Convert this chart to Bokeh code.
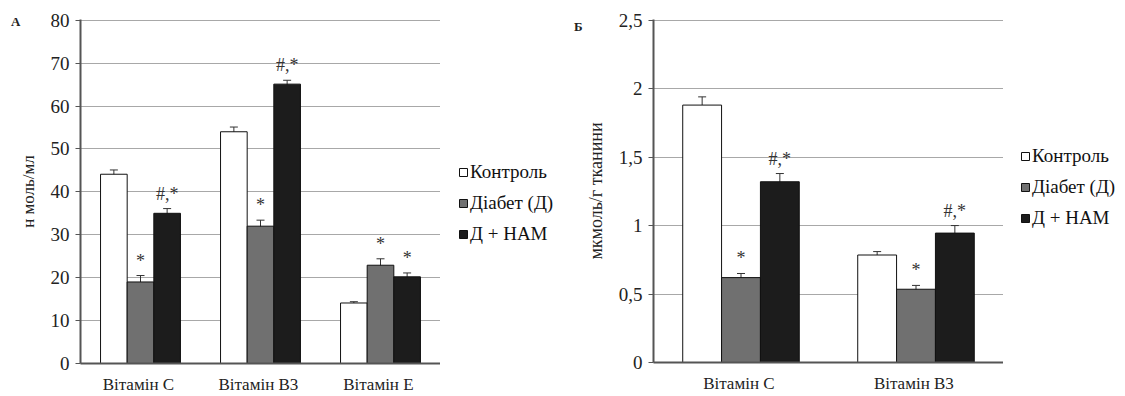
from bokeh.plotting import figure
from bokeh.models import (ColumnDataSource, FactorRange, Range1d, Whisker, Legend,
                          LegendItem, TeeHead, FixedTicker, LinearAxis)
from bokeh.transform import dodge
from bokeh.layouts import row
from bokeh.core.properties import value
from bokeh.embed import file_html
from bokeh.resources import INLINE

# ---------------- data: panel A (nmol/ml) ----------------
cats_a = ["Вітамін  С", "Вітамін  В3", "Вітамін  Е"]
control_a = [44.1, 54.0, 14.1]
control_a_err = [1.0, 1.1, 0.3]
diab_a = [19.0, 32.0, 22.9]
diab_a_err = [1.5, 1.4, 1.5]
nam_a = [35.0, 65.1, 20.2]
nam_a_err = [1.1, 0.9, 0.9]
diab_a_mark = ["*", "*", "*"]
nam_a_mark = ["#,*", "#,*", "*"]
ticks_a = [0, 10, 20, 30, 40, 50, 60, 70, 80]

# ---------------- data: panel B (umol/g tissue) ----------------
cats_b = ["Вітамін  С", "Вітамін  В3"]
control_b = [1.88, 0.785]
control_b_err = [0.06, 0.025]
diab_b = [0.62, 0.535]
diab_b_err = [0.03, 0.028]
nam_b = [1.32, 0.945]
nam_b_err = [0.06, 0.055]
diab_b_mark = ["*", "*"]
nam_b_mark = ["#,*", "#,*"]
ticks_b = [0, 0.5, 1, 1.5, 2, 2.5]
ticks_b_labels = ["0", "0,5", "1", "1,5", "2", "2,5"]

series_names = ["Контроль", "Діабет (Д)", "Д + НАМ"]

SERIF = "'Liberation Serif'"
W = 0.222
FILLS = ["#ffffff", "#707070", "#1c1c1c"]
OUTLINE = "#111111"


def make_panel(cats, series, errs, marks, ticks, tick_labels, ymax, ylabel, ylabel_size,
               frame_w, frame_h, borders, panel_letter, letter_y, letter_standoff):
    p = figure(x_range=FactorRange(*cats), y_range=Range1d(0, ymax * 1.002),
               frame_width=frame_w, frame_height=frame_h,
               min_border_left=borders[0], min_border_right=borders[1],
               min_border_top=borders[2], min_border_bottom=borders[3],
               output_backend="svg", toolbar_location=None, outline_line_color=None)
    data = {"cats": cats}
    for i, (vals, err) in enumerate(zip(series, errs)):
        data[f"v{i}"] = vals
        data[f"lo{i}"] = [v - e for v, e in zip(vals, err)]
        data[f"hi{i}"] = [v + e for v, e in zip(vals, err)]
    data["m1"] = marks[0]
    data["m2"] = marks[1]
    src = ColumnDataSource(data)
    offs = [-W, 0, W]
    for i in range(3):
        p.vbar(x=dodge("cats", offs[i], range=p.x_range), top=f"v{i}", width=W,
               source=src, fill_color=FILLS[i], line_color=OUTLINE, line_width=1)
        wk = Whisker(source=src, base=dodge("cats", offs[i], range=p.x_range),
                     lower=f"lo{i}", upper=f"hi{i}", line_color="#333333", line_width=1)
        wk.upper_head = TeeHead(size=8, line_color="#333333", line_width=1)
        wk.lower_head = TeeHead(size=8, line_color="#333333", line_width=1)
        p.add_layout(wk)
    for i, mcol in [(1, "m1"), (2, "m2")]:
        p.text(x=dodge("cats", offs[i], range=p.x_range), y=f"hi{i}", text=mcol, source=src,
               text_font=value(SERIF), text_font_size="18px", text_align="center",
               text_baseline="bottom", y_offset=-5, text_color="#333333")

    p.xgrid.grid_line_color = None
    p.ygrid.grid_line_color = "#a8a8a8"
    p.ygrid.grid_line_width = 1
    ya = p.yaxis[0]
    ya.ticker = FixedTicker(ticks=ticks)
    if tick_labels is not None:
        ya.major_label_overrides = {t: l for t, l in zip(ticks, tick_labels)}
    ya.minor_tick_line_color = None
    ya.major_tick_in = 0
    ya.major_tick_out = 5
    ya.major_tick_line_color = "#555555"
    ya.axis_line_color = "#555555"
    ya.axis_line_width = 2
    ya.major_label_text_font = SERIF
    ya.major_label_text_font_size = "19px"
    ya.major_label_text_color = "#222222"
    ya.major_label_standoff = 6
    ya.axis_label = ylabel
    ya.axis_label_text_font = SERIF
    ya.axis_label_text_font_size = ylabel_size
    ya.axis_label_text_font_style = "normal"
    ya.axis_label_text_color = "#222222"
    ya.axis_label_standoff = 10

    p.xaxis.major_tick_line_color = None
    p.xaxis.minor_tick_line_color = None
    p.xaxis.axis_line_color = "#555555"
    p.xaxis.axis_line_width = 2
    p.xaxis.major_label_text_font = SERIF
    p.xaxis.major_label_text_font_size = "17px"
    p.xaxis.major_label_text_color = "#222222"
    p.xaxis.major_label_standoff = 5

    # panel letter (А / Б) drawn as an outer axis label at the top-left
    letter_axis = LinearAxis(ticker=FixedTicker(ticks=[letter_y]),
                             major_label_overrides={letter_y: panel_letter},
                             axis_line_color=None, major_tick_line_color=None,
                             minor_tick_line_color=None, major_tick_in=0, major_tick_out=0,
                             major_label_standoff=letter_standoff,
                             major_label_text_font=SERIF,
                             major_label_text_font_size="13px",
                             major_label_text_font_style="bold",
                             major_label_text_color="#222222")
    p.add_layout(letter_axis, "left")
    return p


def make_legend(width, loc):
    lf = figure(width=width, height=396, x_range=Range1d(0, 1), y_range=Range1d(0, 1),
                min_border=0, output_backend="svg", toolbar_location=None,
                outline_line_color=None, x_axis_location=None, y_axis_location=None)
    lf.grid.grid_line_color = None
    # one off-screen row per swatch so the legend glyphs are drawn
    hidden = ColumnDataSource(dict(x=[5.0], top=[1.0]))
    items = []
    for name, fc in zip(series_names, FILLS):
        r = lf.vbar(x="x", top="top", width=0.1, source=hidden, fill_color=fc,
                    line_color=OUTLINE, line_width=1)
        items.append(LegendItem(label=name, renderers=[r]))
    leg = Legend(items=items, location=loc, orientation="vertical",
                 label_text_font=SERIF, label_text_font_size="19px",
                 label_text_color="#111111", glyph_width=10, glyph_height=10,
                 label_height=20, spacing=9, padding=0, margin=0,
                 label_standoff=2, background_fill_alpha=0, border_line_alpha=0)
    lf.add_layout(leg, "center")
    return lf


pa = make_panel(cats_a, [control_a, diab_a, nam_a],
                [control_a_err, diab_a_err, nam_a_err],
                [diab_a_mark, nam_a_mark], ticks_a, None, 80, "н моль/мл", "17px",
                360, 344, (80, 0, 16, 36), "А", 79.8, -5)
la = make_legend(120, (18, 115))
pb = make_panel(cats_b, [control_b, diab_b, nam_b],
                [control_b_err, diab_b_err, nam_b_err],
                [diab_b_mark, nam_b_mark], ticks_b, ticks_b_labels, 2.5, "мкмоль/г тканини",
                "18px", 350, 343, (93, 0, 19, 34), "Б", 2.455, 0)
lb = make_legend(122, (17, 131))

layout = row(pa, la, pb, lb)
open("out.html", "w").write(file_html(layout, INLINE))
